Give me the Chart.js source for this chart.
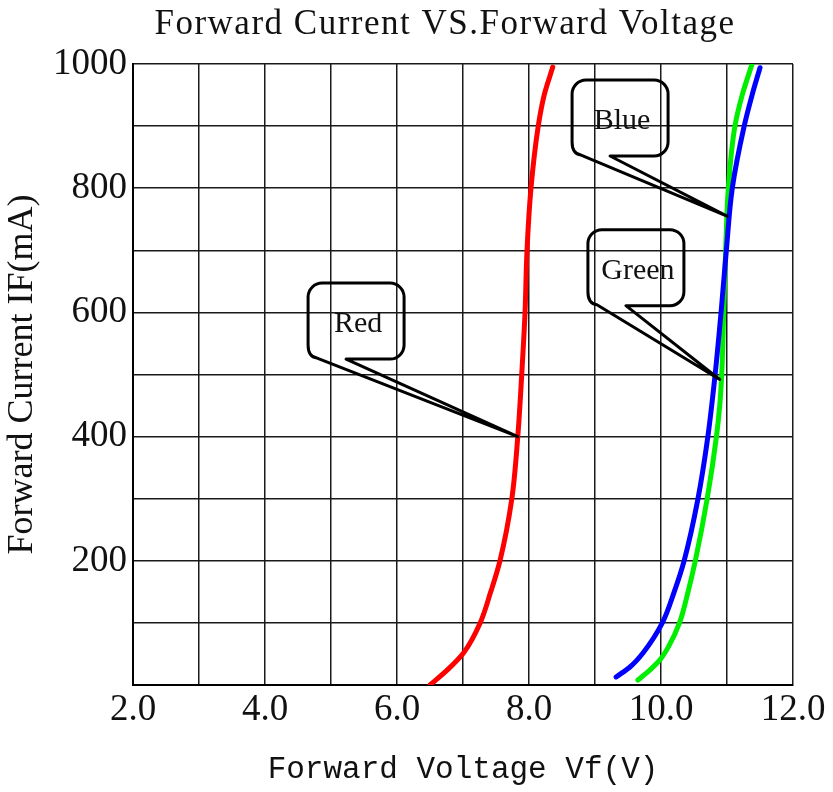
<!DOCTYPE html>
<html>
<head>
<meta charset="utf-8">
<script src="https://cdn.jsdelivr.net/npm/chart.js@4.4.1/dist/chart.umd.min.js"></script>
<style>
  html, body { margin: 0; padding: 0; background: #fff; }
  #wrap { width: 833px; height: 792px; position: relative; }
</style>
</head>
<body>
<div id="wrap"><canvas id="ivChart"></canvas></div>
<script>

// Forward voltage (V) / forward current (mA)
const redVf = [6.50, 6.78, 7.01, 7.26, 7.42, 7.56, 7.74, 7.83, 7.89, 7.94, 7.97, 8.03, 8.14, 8.23, 8.36];
const redIf = [0, 26, 52, 100, 150, 200, 300, 400, 500, 600, 700, 800, 900, 950, 995];
const greenVf = [9.65, 9.83, 9.98, 10.11, 10.28, 10.41, 10.52, 10.70, 10.84, 10.89, 10.92, 10.95, 10.98, 11.02, 11.12, 11.23, 11.38];
const greenIf = [8, 24, 40, 61, 100, 150, 200, 300, 400, 450, 500, 600, 700, 800, 900, 950, 1000];
const blueVf = [9.32, 9.53, 9.73, 10.02, 10.20, 10.35, 10.56, 10.71, 10.82, 10.91, 10.99, 11.08, 11.26, 11.38, 11.50];
const blueIf = [13, 29, 52, 100, 150, 200, 300, 400, 500, 600, 700, 800, 900, 950, 994];

const xTickLabels = ['2.0', '4.0', '6.0', '8.0', '10.0', '12.0'];
const yTickLabels = ['200', '400', '600', '800', '1000'];

// callout boxes: text, the point on the curve they mark, and where the box sits
const calloutText = ['Red', 'Blue', 'Green'];
const calloutTipVf = [7.83, 11.0, 10.89];
const calloutTipIf = [400, 755, 492];
const calloutBoxVf = [5.38, 9.38, 9.62];
const calloutBoxIf = [586, 913, 672];

const COLORS = {
    red: '#ff0000',
    green: '#00ee00',
    blue: '#0000ff',
    grid: '#1a1a1a'
};

function toPoints(vf, iF) {
    return vf.map((v, i) => ({ x: v, y: iF[i] }));
}

function makeSet(label, vf, iF, color, order) {
    return {
        label: label,
        data: toPoints(vf, iF),
        borderColor: color,
        backgroundColor: color,
        borderWidth: 5,
        pointRadius: 0,
        fill: false,
        cubicInterpolationMode: 'monotone', // current is the index axis, so the curve is smooth along it
        borderCapStyle: 'round',
        order: order
    };
}

//title drawn by hand so it can sit where the original has it
const titlePlugin = {
    id: 'ivTitle',
    afterDraw(chart) {
        const ctx = chart.ctx;
        ctx.save();
        ctx.font = '35px "Liberation Serif"';
        ctx.letterSpacing = '1.5px';
        ctx.fillStyle = '#111';
        ctx.textAlign = 'center';
        ctx.textBaseline = 'middle';
        ctx.fillText('Forward Current VS.Forward Voltage', 445, 25);
        ctx.restore();
    }
};

//rounded label boxes with a thin wedge pointing at the curve
const calloutPlugin = {
    id: 'callouts',
    afterDatasetsDraw(chart) {
        const ctx = chart.ctx;
        const xs = chart.scales.x, ys = chart.scales.y;
        const w = 96, h = 76, r = 14;
        ctx.save();
        ctx.strokeStyle = '#000';
        ctx.lineWidth = 3;
        ctx.lineJoin = 'round';
        calloutText.forEach((txt, i) => {
            const cx = xs.getPixelForValue(calloutBoxVf[i]);
            const cy = ys.getPixelForValue(calloutBoxIf[i]);
            const tx = xs.getPixelForValue(calloutTipVf[i]);
            const ty = ys.getPixelForValue(calloutTipIf[i]);
            const left = cx - w / 2, right = cx + w / 2;
            const top = cy - h / 2, bottom = cy + h / 2;

            ctx.beginPath();
            ctx.moveTo(left + 38, bottom);
            ctx.lineTo(right - r, bottom);
            ctx.arcTo(right, bottom, right, bottom - r, r);
            ctx.lineTo(right, top + r);
            ctx.arcTo(right, top, right - r, top, r);
            ctx.lineTo(left + r, top);
            ctx.arcTo(left, top, left, top + r, r);
            ctx.lineTo(left, bottom - r);
            ctx.quadraticCurveTo(left, bottom - 2, left + 9, bottom - 1);
            ctx.lineTo(tx, ty);
            ctx.closePath();
            ctx.stroke();

            ctx.font = '30px "Liberation Serif"';
            ctx.fillStyle = '#111';
            ctx.textAlign = 'center';
            ctx.textBaseline = 'middle';
            ctx.fillText(txt, cx + 2, cy + 3);
        });
        ctx.restore();
    }
};

const config = {
    type: 'line',
    data: {
        datasets: [
            makeSet('Red', redVf, redIf, COLORS.red, 3),
            makeSet('Green', greenVf, greenIf, COLORS.green, 2),
            makeSet('Blue', blueVf, blueIf, COLORS.blue, 1)
        ]
    },
    options: {
        indexAxis: 'y',
        responsive: true,
        maintainAspectRatio: false,
        animation: false,
        layout: {
            padding: { top: 64, right: 40, left: 0, bottom: 0 }
        },
        plugins: {
            legend: { display: false },
            tooltip: { enabled: false },
            title: { display: false }
        },
        scales: {
            x: {
                type: 'linear',
                position: 'bottom',
                min: 2,
                max: 12,
                afterFit: (scale) => { scale.height = 107; },
                ticks: {
                    stepSize: 1,
                    autoSkip: false,
                    maxRotation: 0,
                    padding: 3,
                    color: '#111',
                    font: { family: '"Liberation Serif"', size: 37 },
                    callback: (v) => xTickLabels.find(l => parseFloat(l) === v) || ''
                },
                grid: { color: COLORS.grid, lineWidth: 1.5, drawTicks: false },
                border: { color: '#000', width: 2 },
                title: {
                    display: true,
                    text: 'Forward Voltage Vf(V)',
                    color: '#111',
                    font: { family: '"Liberation Mono"', size: 31 },
                    padding: { top: 0, bottom: 4 }
                }
            },
            y: {
                type: 'linear',
                position: 'left',
                min: 0,
                max: 1000,
                afterFit: (scale) => { scale.width = 133; },
                ticks: {
                    stepSize: 100,
                    autoSkip: false,
                    padding: 6,
                    color: '#111',
                    font: { family: '"Liberation Serif"', size: 37 },
                    callback: (v) => yTickLabels.find(l => parseFloat(l) === v) || ''
                },
                grid: { color: COLORS.grid, lineWidth: 1.5, drawTicks: false },
                border: { color: '#000', width: 2 },
                title: {
                    display: true,
                    text: 'Forward Current IF(mA)',
                    color: '#111',
                    font: { family: '"Liberation Serif"', size: 36 },
                    padding: { top: 1, bottom: 0 }
                }
            }
        }
    },
    plugins: [titlePlugin, calloutPlugin]
};

const ivChart = new Chart(document.getElementById('ivChart'), config);

</script>
</body>
</html>
